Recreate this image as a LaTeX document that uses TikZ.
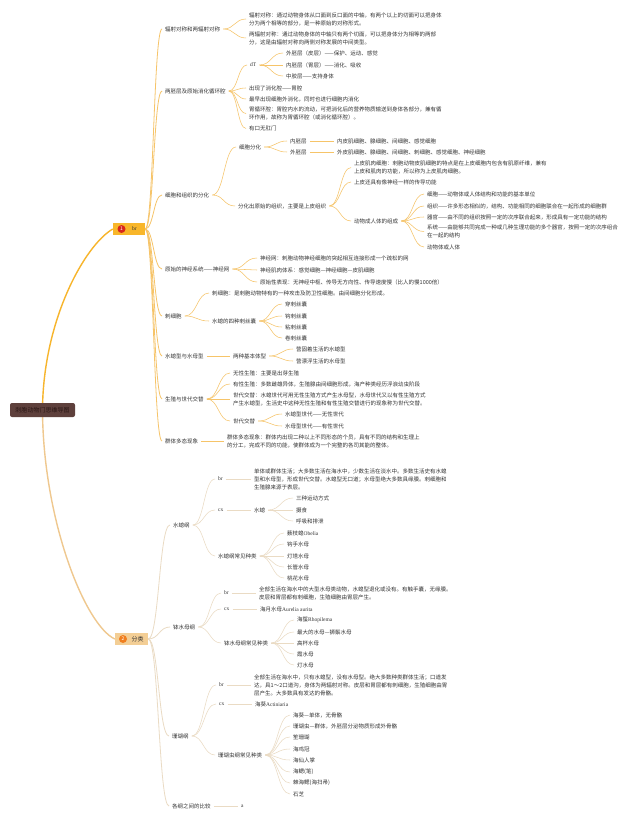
\documentclass[tikz,border=0pt]{standalone}
\usepackage{fontspec}
\setmainfont{Noto Sans CJK SC}
\newfontfamily\lat{Liberation Serif}
\usetikzlibrary{calc}
\pgfdeclarelayer{bg}
\pgfsetlayers{bg,main}
\definecolor{txt}{HTML}{333333}
\definecolor{la}{HTML}{F6C469}
\definecolor{lb}{HTML}{EADBC4}
\definecolor{ma}{HTML}{F7B52C}
\definecolor{mb}{HTML}{EFC88F}
\definecolor{rootc}{HTML}{5E403C}
\definecolor{roottxt}{HTML}{2A1614}
\definecolor{brbox}{HTML}{F8B62A}
\definecolor{flbox}{HTML}{F3CE95}
\definecolor{redc}{HTML}{D8261C}
\definecolor{orc}{HTML}{F07E1E}
\tikzset{
  tx/.style={anchor=west, xshift=-3pt, inner xsep=3pt, inner ysep=1pt,
    font=\fontsize{5.5}{8}\selectfont, text=txt, align=left},
  ca/.style={draw=la, line width=0.55pt},
  cb/.style={draw=lb, line width=0.55pt},
  cam/.style={draw=la, line width=0.8pt},
  cbm/.style={draw=lb, line width=0.8pt},
  numc/.style={circle, inner sep=0pt, minimum size=8pt, text=white,
    font=\fontsize{5}{5}\selectfont},
}
\newcommand\nd[4]{\node[tx] (#1) at (#2,#3) {#4};}
\newcommand\cn[3]{\draw[#1] let \p1=(#2.east), \p2=(#3.west), \n1={0.5*(\x2-\x1)} in (\p1) .. controls +(\n1,0) and +(-\n1,0) .. (\p2);}
\begin{document}
\begin{tikzpicture}[x=1pt,y=-1pt]
\useasboundingbox (0,0) rectangle (640,821);

% ---------- main nodes ----------
\node[fill=rootc, rounded corners=2pt, minimum width=65pt, minimum height=14pt, inner sep=0pt,
  font=\fontsize{6}{7}\selectfont, text=roottxt] (root) at (42.5,410) {刺胞动物门思维导图};
\node[fill=brbox, minimum width=32pt, minimum height=12pt, inner sep=0pt] (br) at (129,229) {};
\node[numc, fill=redc] (brn) at (121.5,229) {1};
\node[inner sep=0pt, font=\lat\fontsize{5.5}{6}\selectfont, text=txt] (brt) at (134.5,228.5) {br};
\node[fill=flbox, minimum width=33pt, minimum height=12pt, inner sep=0pt] (fl) at (131.5,639) {};
\node[numc, fill=orc] (fln) at (123,639) {2};
\node[inner sep=0pt, font=\fontsize{6}{7}\selectfont, text=txt] (flt) at (137.5,639) {分类};

% ---------- branch 1 ----------
\nd{A1}{165}{29}{辐射对称和两辐射对称}
\nd{A1a}{249}{19}{辐射对称：通过动物身体从口面到反口面的中轴，有两个以上的切面可以把身体\\分为两个相等的部分，是一种原始的对称形式。}
\nd{A1b}{249}{38}{两辐射对称：通过动物身体的中轴只有两个切面，可以把身体分为相等的两部\\分，这是由辐射对称向两侧对称发展的中间类型。}
\nd{A2}{165}{91}{两胚层及原始消化循环腔}
\nd{A2a}{250}{65}{{\lat dT}}
\nd{A2a1}{286}{53}{外胚层（皮层）——保护、运动、感觉}
\nd{A2a2}{286}{65}{内胚层（胃层）——消化、吸收}
\nd{A2a3}{286}{76}{中胶层——支持身体}
\nd{A2b}{249}{88}{出现了消化腔——胃腔}
\nd{A2c}{249}{99}{最早出现细胞外消化，同时也进行细胞内消化}
\nd{A2d}{249}{113.5}{胃循环腔：胃腔内水的流动，可把消化后的营养物质输送到身体各部分，兼有循\\环作用，故称为胃循环腔（或消化循环腔）。}
\nd{A2e}{249}{128.5}{有口无肛门}
\nd{A3}{165}{195}{细胞和组织的分化}
\nd{A3a}{239}{147}{细胞分化}
\nd{A3a1}{290}{141}{内胚层}
\nd{A3a1x}{337}{141}{内皮肌细胞、腺细胞、间细胞、感觉细胞}
\nd{A3a2}{290}{152}{外胚层}
\nd{A3a2x}{337}{152}{外皮肌细胞、腺细胞、间细胞、刺细胞、感觉细胞、神经细胞}
\nd{A3b}{238}{206}{分化出原始的组织，主要是上皮组织}
\nd{A3b1}{354}{167.5}{上皮肌肉细胞：刺胞动物皮肌细胞的特点是在上皮细胞内包含有肌原纤维，兼有\\上皮和肌肉的功能，所以称为上皮肌肉细胞。}
\nd{A3b2}{354}{182}{上皮还具有像神经一样的传导功能}
\nd{A3b3}{354}{221}{动物成人体的组成}
\nd{A3c1}{427}{194}{细胞——动物体或人体结构和功能的基本单位}
\nd{A3c2}{427}{206}{组织——许多形态相似的，结构、功能相同的细胞联合在一起形成的细胞群}
\nd{A3c3}{427}{217}{器官——由不同的组织按照一定的次序联合起来，形成具有一定功能的结构}
\nd{A3c4}{427}{231.5}{系统——由能够共同完成一种或几种生理功能的多个器官，按照一定的次序组合\\在一起的结构}
\nd{A3c5}{427}{247}{动物体或人体}
\nd{A4}{165}{269}{原始的神经系统——神经网}
\nd{A4a}{260}{258}{神经网：刺胞动物神经细胞的突起相互连接形成一个疏松的网}
\nd{A4b}{260}{270}{神经肌肉体系：感觉细胞—神经细胞—皮肌细胞}
\nd{A4c}{260}{282}{原始性表现：无神经中枢、传导无方向性、传导速度慢（比人的慢1000倍）}
\nd{A5}{165}{316}{刺细胞}
\nd{A5a}{212}{293}{刺细胞：是刺胞动物特有的一种攻击及防卫性细胞。由间细胞分化形成。}
\nd{A5b}{212}{321}{水螅的四种刺丝囊}
\nd{A5b1}{285}{304}{穿刺丝囊}
\nd{A5b2}{285}{316}{钩刺丝囊}
\nd{A5b3}{285}{327}{粘刺丝囊}
\nd{A5b4}{285}{338}{卷刺丝囊}
\nd{A6}{165}{356}{水螅型与水母型}
\nd{A6a}{233}{356}{两种基本体型}
\nd{A6a1}{296}{349}{营固着生活的水螅型}
\nd{A6a2}{296}{361}{营漂浮生活的水母型}
\nd{A7}{165}{399}{生殖与世代交替}
\nd{A7a}{233}{373}{无性生殖：主要是出芽生殖}
\nd{A7b}{233}{384}{有性生殖：多数雌雄异体，生殖腺由间细胞形成，海产种类经历浮浪幼虫阶段}
\nd{A7c}{233}{399}{世代交替：水螅世代可用无性生殖方式产生水母型，水母世代又以有性生殖方式\\产生水螅型，生活史中这种无性生殖和有性生殖交替进行的现象称为世代交替。}
\nd{A7d}{233}{421}{世代交替}
\nd{A7d1}{285}{414}{水螅型世代——无性世代}
\nd{A7d2}{285}{426}{水母型世代——有性世代}
\nd{A8}{165}{441}{群体多态现象}
\nd{A8a}{227}{441}{群体多态现象：群体内出现二种以上不同形态的个员，具有不同的结构和生理上\\的分工，完成不同的功能，使群体成为一个完整的各司其能的整体。}

% ---------- branch 2 ----------
\nd{B1}{173}{525}{水螅纲}
\nd{B1a}{218}{479}{{\lat br}}
\nd{B1at}{254}{479}{单体或群体生活；大多数生活在海水中，少数生活在淡水中。多数生活史有水螅\\型和水母型，形成世代交替。水螅型无口道；水母型绝大多数具缘膜。刺细胞和\\生殖腺来源于表层。}
\nd{B1b}{218}{510}{{\lat cx}}
\nd{B1bt}{254}{510}{水螅}
\nd{B1b1}{296}{498}{三种运动方式}
\nd{B1b2}{296}{510}{摄食}
\nd{B1b3}{296}{521}{呼吸和排泄}
\nd{B1c}{218}{556}{水螅纲常见种类}
\nd{B1c1}{287}{533}{薮枝螅{\lat Obelia}}
\nd{B1c2}{287}{544}{钩手水母}
\nd{B1c3}{287}{556}{灯塔水母}
\nd{B1c4}{287}{567}{长管水母}
\nd{B1c5}{287}{578}{桃花水母}
\nd{B2}{173}{627}{钵水母纲}
\nd{B2a}{224}{593}{{\lat br}}
\nd{B2at}{259}{593}{全部生活在海水中的大型水母类动物，水螅型退化或没有。有触手囊，无缘膜。\\皮层和胃层都有刺细胞，生殖细胞由胃层产生。}
\nd{B2b}{224}{609}{{\lat cx}}
\nd{B2bt}{260}{609}{海月水母{\lat Aurelia aurita}}
\nd{B2c}{224}{643}{钵水母纲常见种类}
\nd{B2c1}{297}{620}{海蜇{\lat Rhopilema}}
\nd{B2c2}{297}{632}{最大的水母—狮鬃水母}
\nd{B2c3}{297}{643}{高杯水母}
\nd{B2c4}{297}{654}{霞水母}
\nd{B2c5}{297}{665}{灯水母}
\nd{B3}{172}{736}{珊瑚纲}
\nd{B3a}{219}{685}{{\lat br}}
\nd{B3at}{254}{685}{全部生活在海水中，只有水螅型，没有水母型。绝大多数种类群体生活；口道发\\达，具1～2口道沟，身体为两辐射对称。皮层和胃层都有刺细胞，生殖细胞由胃\\层产生。大多数具有发达的骨骼。}
\nd{B3b}{219}{704}{{\lat cx}}
\nd{B3bt}{255}{704}{海葵{\lat Actiniaria}}
\nd{B3c}{218}{755}{珊瑚虫纲常见种类}
\nd{B3c1}{293}{715}{海葵—单体，无骨骼}
\nd{B3c2}{293}{726}{珊瑚虫—群体，外胚层分泌物质形成外骨骼}
\nd{B3c3}{293}{737}{笙珊瑚}
\nd{B3c4}{293}{749}{海鸡冠}
\nd{B3c5}{293}{760}{海仙人掌}
\nd{B3c6}{293}{772}{海鳃(笔)}
\nd{B3c7}{293}{783}{棘海鳃(海扫帚)}
\nd{B3c8}{293}{794}{石芝}
\nd{B4}{172}{806}{各纲之间的比较}
\nd{B4a}{241}{806}{{\lat a}}

% ---------- connectors ----------
\begin{pgfonlayer}{bg}
\fill[white] (0,0) rectangle (640,821);
\draw[ma, line width=1.4pt] (root.center) .. controls (43,320) and (85,245) .. (br.west);
\draw[mb, line width=1.4pt] (root.center) .. controls (43,520) and (85,625) .. (fl.west);
\foreach \c in {A1,A2,A3,A4,A5,A6,A7,A8}{\cn{cam}{br}{\c}}
\foreach \c in {A1a,A1b}{\cn{ca}{A1}{\c}}
\foreach \c in {A2a,A2b,A2c,A2d,A2e}{\cn{ca}{A2}{\c}}
\foreach \c in {A2a1,A2a2,A2a3}{\cn{ca}{A2a}{\c}}
\foreach \c in {A3a,A3b}{\cn{ca}{A3}{\c}}
\foreach \c in {A3a1,A3a2}{\cn{ca}{A3a}{\c}}
\cn{ca}{A3a1}{A3a1x}
\cn{ca}{A3a2}{A3a2x}
\foreach \c in {A3b1,A3b2,A3b3}{\cn{ca}{A3b}{\c}}
\foreach \c in {A3c1,A3c2,A3c3,A3c4,A3c5}{\cn{ca}{A3b3}{\c}}
\foreach \c in {A4a,A4b,A4c}{\cn{ca}{A4}{\c}}
\foreach \c in {A5a,A5b}{\cn{ca}{A5}{\c}}
\foreach \c in {A5b1,A5b2,A5b3,A5b4}{\cn{ca}{A5b}{\c}}
\cn{ca}{A6}{A6a}
\foreach \c in {A6a1,A6a2}{\cn{ca}{A6a}{\c}}
\foreach \c in {A7a,A7b,A7c,A7d}{\cn{ca}{A7}{\c}}
\foreach \c in {A7d1,A7d2}{\cn{ca}{A7d}{\c}}
\cn{ca}{A8}{A8a}
\foreach \c in {B1,B2,B3,B4}{\cn{cbm}{fl}{\c}}
\foreach \c in {B1a,B1b,B1c}{\cn{cb}{B1}{\c}}
\cn{cb}{B1a}{B1at}
\cn{cb}{B1b}{B1bt}
\foreach \c in {B1b1,B1b2,B1b3}{\cn{cb}{B1bt}{\c}}
\foreach \c in {B1c1,B1c2,B1c3,B1c4,B1c5}{\cn{cb}{B1c}{\c}}
\foreach \c in {B2a,B2b,B2c}{\cn{cb}{B2}{\c}}
\cn{cb}{B2a}{B2at}
\cn{cb}{B2b}{B2bt}
\foreach \c in {B2c1,B2c2,B2c3,B2c4,B2c5}{\cn{cb}{B2c}{\c}}
\foreach \c in {B3a,B3b,B3c}{\cn{cb}{B3}{\c}}
\cn{cb}{B3a}{B3at}
\cn{cb}{B3b}{B3bt}
\foreach \c in {B3c1,B3c2,B3c3,B3c4,B3c5,B3c6,B3c7,B3c8}{\cn{cb}{B3c}{\c}}
\cn{cb}{B4}{B4a}
\end{pgfonlayer}
\end{tikzpicture}
\end{document}
